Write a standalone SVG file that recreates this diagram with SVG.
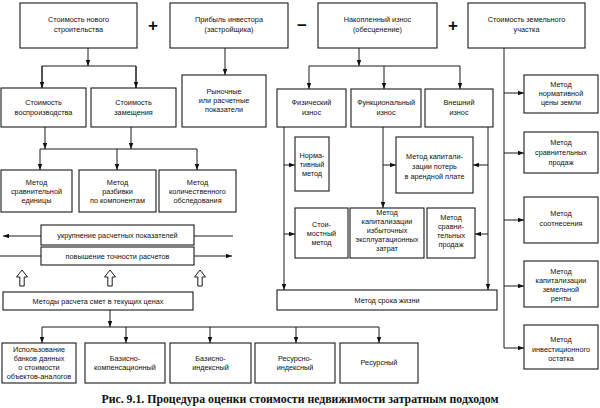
<svg xmlns="http://www.w3.org/2000/svg" width="600" height="408" viewBox="0 0 600 408">
<defs>
<style>
rect.b{fill:#fff;stroke:#1a1a1a;stroke-width:1.1}
text{font-family:"Liberation Sans",Arial,sans-serif;font-size:7.3px;fill:#111;text-anchor:middle}
text.s{font-size:6.6px}
text.op{font-size:17px;font-weight:bold}
text.cap{font-family:"Liberation Serif","Times New Roman",serif;font-size:11.8px;font-weight:bold}
.c{fill:none;stroke:#1a1a1a;stroke-width:1}
.ua{fill:#fff;stroke:#1a1a1a;stroke-width:1}
</style>
<marker id="ah" viewBox="0 0 8 6" refX="8" refY="3" markerWidth="6" markerHeight="4.5" orient="auto" markerUnits="userSpaceOnUse"><path d="M0,0 L8,3 L0,6 z" fill="#111"/></marker>
</defs>
<rect width="600" height="408" fill="#fff"/>

<g id="connectors">
<path class="c" d="M88,48 V66" marker-end="url(#ah)"/>
<path class="c" d="M42,88 V66 H136 V88"/>
<path class="c" d="M42,66 V88" marker-end="url(#ah)"/>
<path class="c" d="M136,66 V88" marker-end="url(#ah)"/>
<path class="c" d="M225,48 V75" marker-end="url(#ah)"/>
<path class="c" d="M359,48 V66" marker-end="url(#ah)"/>
<path class="c" d="M309,66 H460"/>
<path class="c" d="M309,66 V89" marker-end="url(#ah)"/>
<path class="c" d="M384,66 V89" marker-end="url(#ah)"/>
<path class="c" d="M460,66 V89" marker-end="url(#ah)"/>
<path class="c" d="M504,48 V348"/>
<path class="c" d="M504,93 H524" marker-end="url(#ah)"/>
<path class="c" d="M504,153 H524" marker-end="url(#ah)"/>
<path class="c" d="M504,220 H524" marker-end="url(#ah)"/>
<path class="c" d="M504,286 H524" marker-end="url(#ah)"/>
<path class="c" d="M504,348 H524" marker-end="url(#ah)"/>
<path class="c" d="M45,127 V149" marker-end="url(#ah)"/>
<path class="c" d="M131,127 V149" marker-end="url(#ah)"/>
<path class="c" d="M40,149 H197"/>
<path class="c" d="M40,149 V170" marker-end="url(#ah)"/>
<path class="c" d="M117,149 V170" marker-end="url(#ah)"/>
<path class="c" d="M197,149 V170" marker-end="url(#ah)"/>
<path class="c" d="M41,236 H3" marker-end="url(#ah)"/>
<path class="c" d="M194,236 H233"/>
<path class="c" d="M0,256 H41"/>
<path class="c" d="M194,256 H232" marker-end="url(#ah)"/>
<path class="ua" d="M22,270 L27.5,277 L24.2,277 L24.2,286 L19.8,286 L19.8,277 L16.5,277 Z"/>
<path class="ua" d="M110,270 L115.5,277 L112.2,277 L112.2,286 L107.8,286 L107.8,277 L104.5,277 Z"/>
<path class="ua" d="M200,270 L205.5,277 L202.2,277 L202.2,286 L197.8,286 L197.8,277 L194.5,277 Z"/>
<path class="c" d="M110,310 V327" marker-end="url(#ah)"/>
<path class="c" d="M42,327 H379"/>
<path class="c" d="M42,327 V343" marker-end="url(#ah)"/>
<path class="c" d="M126,327 V343" marker-end="url(#ah)"/>
<path class="c" d="M210,327 V343" marker-end="url(#ah)"/>
<path class="c" d="M296,327 V343" marker-end="url(#ah)"/>
<path class="c" d="M379,327 V343" marker-end="url(#ah)"/>
<path class="c" d="M284,127 V290" marker-end="url(#ah)"/>
<path class="c" d="M284,165 H295" marker-end="url(#ah)"/>
<path class="c" d="M284,234 H295" marker-end="url(#ah)"/>
<path class="c" d="M383,127 V208" marker-end="url(#ah)"/>
<path class="c" d="M383,165 H396" marker-end="url(#ah)"/>
<path class="c" d="M488,127 V290" marker-end="url(#ah)"/>
<path class="c" d="M488,165 H473" marker-end="url(#ah)"/>
<path class="c" d="M488,234 H475" marker-end="url(#ah)"/>
</g>

<text class="op" x="153" y="31">+</text>
<text class="op" x="302" y="31">−</text>
<text class="op" x="453" y="31">+</text>

<g id="n1"><rect class="b" x="20" y="3" width="117" height="45"/><text><tspan x="78.5" y="22">Стоимость нового</tspan><tspan x="78.5" y="32">строительства</tspan></text></g>
<g id="n2"><rect class="b" x="170" y="3" width="118" height="45"/><text><tspan x="229" y="22">Прибыль инвестора</tspan><tspan x="229" y="32">(застройщика)</tspan></text></g>
<g id="n3"><rect class="b" x="318" y="3" width="119" height="45"/><text><tspan x="377.5" y="22">Накопленный износ</tspan><tspan x="377.5" y="32">(обесценение)</tspan></text></g>
<g id="n4"><rect class="b" x="468" y="3" width="117" height="45"/><text><tspan x="526.5" y="22">Стоимость земельного</tspan><tspan x="526.5" y="32">участка</tspan></text></g>

<g id="n5"><rect class="b" x="1" y="88" width="85" height="39"/><text><tspan x="43.5" y="105">Стоимость</tspan><tspan x="43.5" y="115">воспроизводства</tspan></text></g>
<g id="n6"><rect class="b" x="91" y="88" width="85" height="39"/><text><tspan x="133.5" y="105">Стоимость</tspan><tspan x="133.5" y="115">замещения</tspan></text></g>
<g id="n7"><rect class="b" x="182" y="75" width="84" height="52"/><text><tspan x="224" y="94">Рыночные</tspan><tspan x="224" y="103">или расчетные</tspan><tspan x="224" y="112">показатели</tspan></text></g>
<g id="n8"><rect class="b" x="277" y="89" width="69" height="38"/><text><tspan x="311.5" y="105">Физический</tspan><tspan x="311.5" y="115">износ</tspan></text></g>
<g id="n9"><rect class="b" x="351" y="89" width="70" height="38"/><text><tspan x="386" y="105">Функциональный</tspan><tspan x="386" y="115">износ</tspan></text></g>
<g id="n10"><rect class="b" x="425" y="89" width="68" height="38"/><text><tspan x="459" y="105">Внешний</tspan><tspan x="459" y="115">износ</tspan></text></g>

<g id="n11"><rect class="b" x="524" y="75" width="74" height="38"/><text><tspan x="561" y="87">Метод</tspan><tspan x="561" y="96">нормативной</tspan><tspan x="561" y="105">цены земли</tspan></text></g>
<g id="n12"><rect class="b" x="524" y="132" width="74" height="41"/><text><tspan x="561" y="145">Метод</tspan><tspan x="561" y="155">сравнительных</tspan><tspan x="561" y="165">продаж</tspan></text></g>
<g id="n13"><rect class="b" x="524" y="197" width="74" height="46"/><text><tspan x="561" y="216">Метод</tspan><tspan x="561" y="226">соотнесения</tspan></text></g>
<g id="n14"><rect class="b" x="524" y="261" width="74" height="46"/><text><tspan x="561" y="274">Метод</tspan><tspan x="561" y="283" class="s">капитализации</tspan><tspan x="561" y="292" class="s">земельной</tspan><tspan x="561" y="301">ренты</tspan></text></g>
<g id="n15"><rect class="b" x="524" y="325" width="74" height="44"/><text><tspan x="561" y="342">Метод</tspan><tspan x="561" y="352" class="s">инвестиционного</tspan><tspan x="561" y="361">остатка</tspan></text></g>

<g id="n16"><rect class="b" x="1" y="170" width="71" height="42"/><text><tspan x="36.5" y="185">Метод</tspan><tspan x="36.5" y="194">сравнительной</tspan><tspan x="36.5" y="203">единицы</tspan></text></g>
<g id="n17"><rect class="b" x="79" y="170" width="77" height="42"/><text><tspan x="117.5" y="185">Метод</tspan><tspan x="117.5" y="194">разбивки</tspan><tspan x="117.5" y="203">по компонентам</tspan></text></g>
<g id="n18"><rect class="b" x="159" y="170" width="77" height="42"/><text><tspan x="197.5" y="185">Метод</tspan><tspan x="197.5" y="194">количественного</tspan><tspan x="197.5" y="203">обследования</tspan></text></g>
<g id="n19"><rect class="b" x="41" y="225" width="153" height="20"/><text x="117.5" y="238">укрупнение расчетных показателей</text></g>
<g id="n20"><rect class="b" x="41" y="247" width="153" height="18"/><text x="117.5" y="259">повышение точности расчетов</text></g>
<g id="n21"><rect class="b" x="3" y="292" width="190" height="18"/><text x="98" y="304">Методы расчета смет в текущих ценах</text></g>

<g id="n22"><rect class="b" x="2" y="343" width="74" height="40"/><text><tspan x="39" y="352">Использование</tspan><tspan x="39" y="361">банков данных</tspan><tspan x="39" y="370">о стоимости</tspan><tspan x="39" y="379">объектов-аналогов</tspan></text></g>
<g id="n23"><rect class="b" x="85" y="343" width="80" height="40"/><text><tspan x="125" y="361">Базисно-</tspan><tspan x="125" y="370">компенсационный</tspan></text></g>
<g id="n24"><rect class="b" x="170" y="343" width="81" height="40"/><text><tspan x="210.5" y="361">Базисно-</tspan><tspan x="210.5" y="370">индексный</tspan></text></g>
<g id="n25"><rect class="b" x="255" y="343" width="80" height="40"/><text><tspan x="295" y="361">Ресурсно-</tspan><tspan x="295" y="370">индексный</tspan></text></g>
<g id="n26"><rect class="b" x="340" y="343" width="78" height="40"/><text x="379" y="365">Ресурсный</text></g>

<g id="n27"><rect class="b" x="295" y="137" width="34" height="54"/><text><tspan x="312" y="158">Норма-</tspan><tspan x="312" y="167">тивный</tspan><tspan x="312" y="176">метод</tspan></text></g>
<g id="n28"><rect class="b" x="396" y="137" width="77" height="56"/><text><tspan x="434.5" y="159">Метод капитали-</tspan><tspan x="434.5" y="169">зации потерь</tspan><tspan x="434.5" y="179">в арендной плате</tspan></text></g>
<g id="n29"><rect class="b" x="295" y="208" width="53" height="50"/><text><tspan x="321.5" y="227">Стои-</tspan><tspan x="321.5" y="236">мостный</tspan><tspan x="321.5" y="245">метод</tspan></text></g>
<g id="n30"><rect class="b" x="350" y="208" width="74" height="50"/><text><tspan x="387" y="215" class="s">Метод</tspan><tspan x="387" y="224">капитализации</tspan><tspan x="387" y="233">избыточных</tspan><tspan x="387" y="242" class="s">эксплуатационных</tspan><tspan x="387" y="251" class="s">затрат</tspan></text></g>
<g id="n31"><rect class="b" x="427" y="208" width="48" height="50"/><text><tspan x="451" y="220" class="s">Метод</tspan><tspan x="451" y="229">сравни-</tspan><tspan x="451" y="238">тельных</tspan><tspan x="451" y="247" class="s">продаж</tspan></text></g>
<g id="n32"><rect class="b" x="277" y="290" width="220" height="20"/><text x="387" y="303">Метод срока жизни</text></g>

<text class="cap" x="300" y="403">Рис. 9.1. Процедура оценки стоимости недвижимости затратным подходом</text>
</svg>
